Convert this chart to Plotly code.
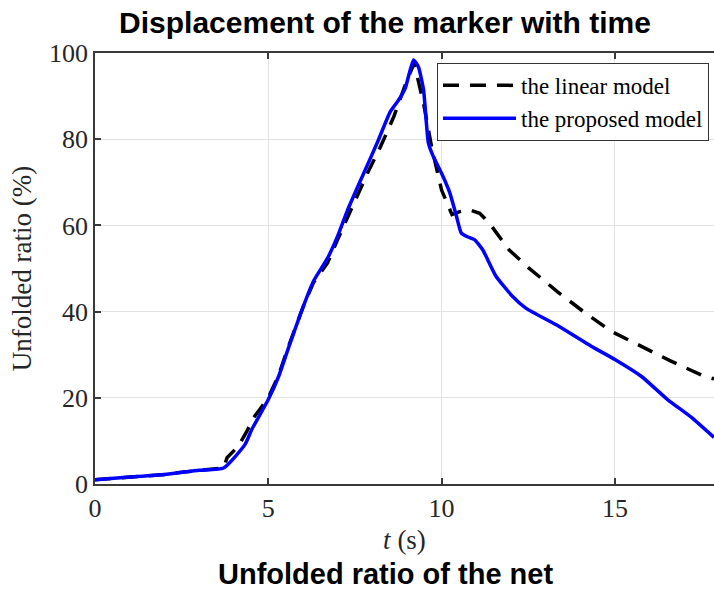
import plotly.graph_objects as go

# Linear model (black dashed)
t_linear = [0.0, 1.0, 2.0, 3.0, 3.71, 3.81, 4.14, 4.38, 4.57, 5.0, 5.3, 5.6, 6.0, 6.3, 6.71, 7.0, 7.38,
            7.86, 8.24, 8.62, 9.0, 9.21, 9.48, 9.71, 10.0, 10.3, 10.52, 10.8, 11.1, 11.38,
            11.95, 12.52, 13.33, 14.14, 14.9, 15.76, 16.62, 17.57, 17.86]
y_linear = [1.0, 1.6, 2.2, 3.2, 3.7, 6.1, 8.8, 12.2, 15.3, 20.0, 25.3, 32.3, 41.0, 46.7, 51.3, 56.7, 63.6,
            72.1, 78.3, 85.2, 93.7, 97.6, 88.3, 78.3, 68.2, 62.5, 63.2, 63.6, 62.8, 60.5,
            54.3, 50.1, 44.7, 39.7, 35.4, 31.9, 28.5, 25.0, 24.4]

# Proposed model (blue solid)
t_proposed = [0.0, 1.0, 2.0, 3.0, 3.71, 4.33, 4.52, 5.0, 5.3, 5.6, 6.0, 6.3, 6.71, 7.0, 7.29, 7.67,
              8.14, 8.52, 8.76, 8.95, 9.19, 9.33, 9.48, 9.62, 9.76, 10.0, 10.24, 10.43, 10.57,
              10.76, 10.95, 11.19, 11.57, 12.05, 12.43, 13.38, 14.33, 15.0, 15.76, 16.52, 17.2, 17.86]
y_proposed = [1.0, 1.6, 2.2, 3.2, 3.7, 9.2, 12.6, 19.6, 25.0, 32.0, 41.0, 47.0, 52.4, 57.5, 63.6, 70.6,
              79.1, 86.4, 89.1, 91.8, 98.4, 96.8, 91.4, 79.1, 76.0, 72.1, 67.5, 62.1, 58.2,
              57.3, 56.7, 54.3, 48.2, 43.5, 40.8, 36.6, 31.9, 28.9, 25.0, 19.6, 15.5, 10.8]

x_ticks = [0, 5, 10, 15]
y_ticks = [0, 20, 40, 60, 80, 100]

serif = "Liberation Serif, Times New Roman, serif"
sans = "Liberation Sans, Arial, sans-serif"
axis_col = "#3a3a3a"
grid_col = "#e3e3e3"

fig = go.Figure()
fig.add_trace(go.Scatter(x=t_linear, y=y_linear, mode="lines", name="the linear model",
                         line=dict(color="black", width=3.5, dash="16px,11px")))
fig.add_trace(go.Scatter(x=t_proposed, y=y_proposed, mode="lines", name="the proposed model",
                         line=dict(color="#0000ff", width=3.5, shape="spline", smoothing=0.5)))

fig.update_layout(
    width=714, height=589,
    margin=dict(l=95, r=0, t=53, b=105),
    paper_bgcolor="white", plot_bgcolor="white",
    font=dict(family=serif, size=26, color="#262626"),
    title=dict(text="<b>Displacement of the marker with time</b>",
               font=dict(family=sans, size=30, color="black"),
               x=(385 - 95) / 619, xref="paper", xanchor="center",
               y=1 - 22 / 589, yref="container", yanchor="middle"),
    showlegend=True,
    legend=dict(x=0.5525, y=0.977, xanchor="left", yanchor="top",
                bgcolor="white", bordercolor="#333333", borderwidth=1,
                font=dict(family=serif, size=23, color="black"),
                tracegroupgap=0, itemwidth=73),
    xaxis=dict(range=[0, 17.86], tickvals=x_ticks, showgrid=True, gridcolor=grid_col, gridwidth=1,
               showline=True, linecolor=axis_col, linewidth=1.5, mirror="ticks",
               ticks="inside", ticklen=6, tickcolor=axis_col, tickwidth=1.5, zeroline=False,
               title=dict(text="<i>t</i> (s)", font=dict(family=serif, size=27), standoff=8)),
    yaxis=dict(range=[0, 100], tickvals=y_ticks, showgrid=True, gridcolor=grid_col, gridwidth=1,
               showline=True, linecolor=axis_col, linewidth=1.5, mirror=False,
               ticks="inside", ticklen=6, tickcolor=axis_col, tickwidth=1.5, zeroline=False,
               title=dict(text="Unfolded ratio (%)", font=dict(family=serif, size=27), standoff=10)),
    annotations=[dict(text="<b>Unfolded ratio of the net</b>", xref="paper", yref="paper",
                      x=(385 - 95) / 619, y=-(574 - 484) / 431, xanchor="center", yanchor="middle",
                      showarrow=False, font=dict(family=sans, size=29, color="black"))],
)

fig.write_html("out.html")
